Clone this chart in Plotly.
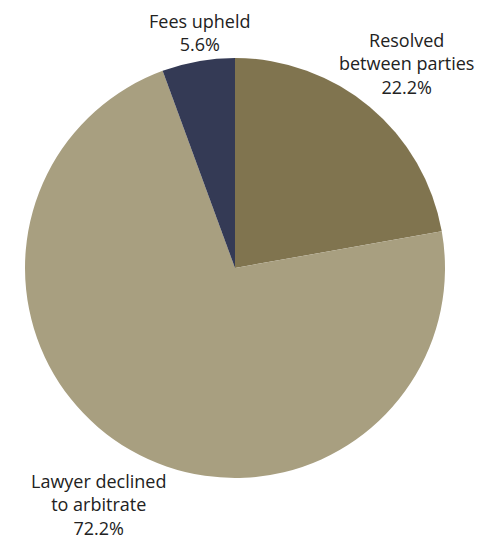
import math
import plotly.graph_objects as go

# Outcome categories and their shares (%)
categories = ["Resolved<br>between parties", "Lawyer declined<br>to arbitrate", "Fees upheld"]
shares = [22.2, 72.2, 5.6]
colors = ["#80744F", "#A89F80", "#343A55"]

# Radial distance of each label centre from the pie centre (in pie radii)
# and a small horizontal nudge in pixels
label_dist = [1.27, 1.30, 1.14]
label_nudge = [0, 0, 7]

fig = go.Figure(
    go.Pie(
        labels=categories,
        values=shares,
        sort=False,
        direction="clockwise",
        rotation=0,
        marker=dict(colors=colors, line=dict(width=0)),
        textinfo="none",
        hoverinfo="label+percent",
        automargin=False,
        showlegend=False,
    )
)

# Labels placed outside each slice, along the slice's mid angle
total = sum(shares)
cum = 0.0
for name, val, d, nudge in zip(categories, shares, label_dist, label_nudge):
    mid = (cum + val / 2) / total * 2 * math.pi  # clockwise from 12 o'clock
    cum += val
    x = 0.5 + 0.5 * d * math.sin(mid)
    y = 0.5 + 0.5 * d * math.cos(mid)
    fig.add_annotation(
        x=x, y=y, xref="paper", yref="paper",
        xshift=nudge,
        text=f"{name}<br>{val:.1f}%",
        showarrow=False,
        xanchor="center", yanchor="middle",
        align="center",
        font=dict(family="Open Sans", size=18, color="#222222"),
    )

fig.update_layout(
    width=487,
    height=539,
    margin=dict(l=25, r=42, t=58, b=61),
    paper_bgcolor="white",
    plot_bgcolor="white",
    font=dict(family="Open Sans"),
)

fig.write_html("out.html")
